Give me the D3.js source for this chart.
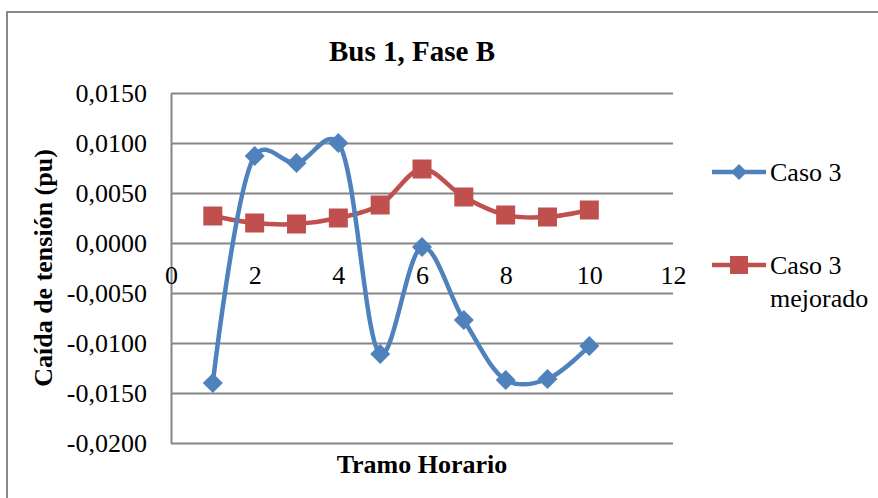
<!DOCTYPE html>
<html><head><meta charset="utf-8">
<script src="https://cdn.jsdelivr.net/npm/d3@7"></script>
<style>
body{margin:0;background:#fff;}
svg text{font-family:"Liberation Serif","Times New Roman","Tinos","DejaVu Serif",serif !important;fill:#000;}
</style></head>
<body><svg id="c" width="878" height="498"></svg>
<script>
const hours = [1,2,3,4,5,6,7,8,9,10];
const caso3 = [-0.0140,0.0087,0.0080,0.0100,-0.0111,-0.0004,-0.0077,-0.0137,-0.0136,-0.0103];
const caso3Mejorado = [0.0027,0.0020,0.0019,0.0025,0.0038,0.0074,0.0046,0.0028,0.0026,0.0033];
const yTicks = [0.015,0.01,0.005,0,-0.005,-0.01,-0.015,-0.02];
const xTicks = [0,2,4,6,8,10,12];
const seriesNames = ["Caso 3","Caso 3 mejorado"];
const colors = ["#4F81BD","#C0504D"];

const svg = d3.select("#c");
const x = d3.scaleLinear().domain([0,12]).range([171,673]);
const y = d3.scaleLinear().domain([-0.02,0.015]).range([443,93]);
const loc = d3.formatLocale({decimal:",",thousands:".",grouping:[3],currency:["",""],minus:"-"});
const fy = loc.format(".4f");

// chart border
svg.append("path").attr("d","M7,499 L7,12 L879,12").attr("fill","none").attr("stroke","#898989").attr("stroke-width",2);

// gridlines
const grid = svg.append("g").attr("transform","translate(171,0)")
  .call(d3.axisRight(y).tickValues(yTicks).tickSize(502).tickFormat(""));
grid.select(".domain").remove();
grid.selectAll("line").attr("stroke","#868686").attr("stroke-width",2);

// y axis
const ya = svg.append("g").attr("transform","translate(171,0)")
  .call(d3.axisLeft(y).tickValues(yTicks).tickSize(0).tickPadding(24).tickFormat(fy));
ya.select(".domain").attr("stroke","#868686").attr("stroke-width",2);
ya.selectAll("text").attr("font-size",26).attr("fill","#000");

// x axis labels
const xa = svg.append("g").attr("transform",`translate(0,${y(0)})`)
  .call(d3.axisBottom(x).tickValues(xTicks).tickSize(0).tickPadding(23).tickFormat(d3.format("d")));
xa.select(".domain").remove();
xa.selectAll("text").attr("font-size",26).attr("fill","#000");

const line = d3.line().x((d,i)=>x(hours[i])).y(d=>y(d)).curve(d3.curveCatmullRom.alpha(0.25));

// red series
svg.append("path").datum(caso3Mejorado).attr("d",line).attr("fill","none").attr("stroke",colors[1]).attr("stroke-width",4.5);
svg.append("g").selectAll("rect").data(caso3Mejorado).join("rect")
  .attr("x",(d,i)=>x(hours[i])-9.5).attr("y",d=>y(d)-9.5).attr("width",19).attr("height",19)
  .attr("fill",colors[1]);

// blue series
svg.append("path").datum(caso3).attr("d",line).attr("fill","none").attr("stroke",colors[0]).attr("stroke-width",4.5);
const diamond = (cx,cy,r)=>`M${cx},${cy-r}L${cx+r},${cy}L${cx},${cy+r}L${cx-r},${cy}Z`;
svg.append("g").selectAll("path").data(caso3).join("path")
  .attr("d",(d,i)=>diamond(x(hours[i]),y(d),10)).attr("fill",colors[0]);

// titles
svg.append("text").attr("x",412).attr("y",61).attr("text-anchor","middle")
  .attr("font-size",29).attr("font-weight","bold").text("Bus 1, Fase B");
svg.append("text").attr("x",422).attr("y",473).attr("text-anchor","middle")
  .attr("font-size",26).attr("font-weight","bold").text("Tramo Horario");
svg.append("text").attr("transform","translate(52,268) rotate(-90)").attr("text-anchor","middle")
  .attr("font-size",26).attr("font-weight","bold").text("Caída de tensión (pu)");

// legend
const lg = svg.append("g");
lg.append("line").attr("x1",712).attr("x2",766).attr("y1",172).attr("y2",172).attr("stroke",colors[0]).attr("stroke-width",4.5);
lg.append("path").attr("d",diamond(739,172,8)).attr("fill",colors[0]);
lg.append("text").attr("x",770).attr("y",181).attr("font-size",26).text(seriesNames[0]);
lg.append("line").attr("x1",712).attr("x2",766).attr("y1",265).attr("y2",265).attr("stroke",colors[1]).attr("stroke-width",4.5);
lg.append("rect").attr("x",730).attr("y",256).attr("width",18).attr("height",18).attr("fill",colors[1]);
const t2 = lg.append("text").attr("x",770).attr("y",274).attr("font-size",26);
const parts = seriesNames[1].split(" ");
t2.append("tspan").attr("x",770).text(parts[0]+" "+parts[1]);
t2.append("tspan").attr("x",770).attr("dy",33).text(parts[2]);
</script></body></html>
